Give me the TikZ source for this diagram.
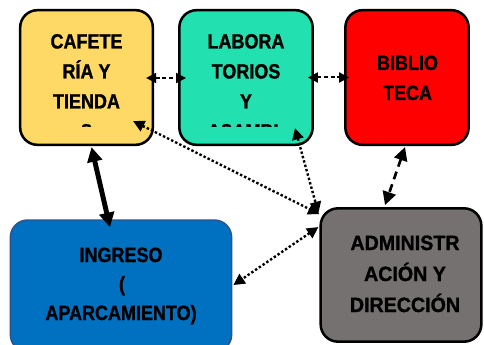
\documentclass[tikz,border=0pt]{standalone}
\usepackage{fontspec}
\setmainfont{Liberation Sans}
\newfontfamily\boxfont[FakeStretch=0.87,BoldFeatures={FakeBold=1.2}]{Liberation Sans}
\newfontfamily\admfont[FakeStretch=0.95,BoldFeatures={FakeBold=1.2}]{Liberation Sans}
\usetikzlibrary{arrows.meta}
\definecolor{cafeyellow}{RGB}{255,217,102}
\definecolor{labgreen}{RGB}{35,224,176}
\definecolor{ingblue}{RGB}{0,112,192}
\definecolor{ingedge}{RGB}{47,82,143}
\definecolor{admgray}{RGB}{118,113,113}

\begin{document}
\begin{tikzpicture}[x=0.75pt,y=-0.75pt,
    area/.style={draw=black,line width=1.9pt,rounded corners=13pt,inner sep=0},
    lbl/.style={font=\boxfont\bfseries\fontsize{15.5}{18}\selectfont,anchor=base,inner sep=0},
    admlbl/.style={lbl,font=\admfont\bfseries\fontsize{15.5}{18}\selectfont},
    link/.style={black,line width=1.5pt,arrows={Triangle[length=#1,width=#1]-Triangle[length=#1,width=#1]}},
    dots/.style={link=8.5pt,line width=1.8pt,dash pattern=on 1.8pt off 1.6pt}]
  \useasboundingbox (0,0) rectangle (484,345);
  \clip (0,0) rectangle (484,345);
  \node[area,fill=cafeyellow,minimum width=99.5pt,minimum height=101pt] (cafe) at (86.5,77.5) {};
  \node[area,fill=labgreen,minimum width=100pt,minimum height=101pt] (lab) at (246,77.5) {};
  \node[area,fill=red,minimum width=92.5pt,minimum height=101pt] (bib) at (407,77.5) {};
  \node[area,draw=ingedge,line width=1.1pt,fill=ingblue,minimum width=166pt,minimum height=99pt] (ing) at (121,286) {};
  \node[area,fill=admgray,minimum width=120.5pt,minimum height=100pt] (adm) at (401,275) {};
  \begin{scope}
    \clip (0,0) rectangle (330,127);
    \foreach \t [count=\i] in {CAFETE,RÍA Y,TIENDA,S}
      \node[lbl] (cafe-\i) at (86.5,18.5+30*\i) {\t};
    \foreach \t [count=\i] in {LABORA,TORIOS,Y,ASAMBL}
      \node[lbl] (lab-\i) at (246,18.5+30*\i) {\t};
  \end{scope}
  \node[lbl] (bib-1) at (407.5,70) {BIBLIO};
  \node[lbl] (bib-2) at (407.5,100) {TECA};
  \node[lbl] (ing-1) at (121,262) {INGRESO};
  \node[lbl] (ing-2) at (122,291) {(};
  \node[lbl] (ing-3) at (121,320) {APARCAMIENTO)};
  \node[admlbl] (adm-1) at (405,250) {ADMINISTR};
  \node[admlbl] (adm-2) at (405,281) {ACIÓN Y};
  \node[admlbl] (adm-3) at (405,312) {DIRECCIÓN};
  \draw[link=7.5pt,dash pattern=on 3pt off 2pt] ([shift={(-8,0.5)}]cafe.east) -- ([shift={(8,0.5)}]lab.west);
  \draw[link=7.5pt,dash pattern=on 3pt off 2pt] ([shift={(-6,0)}]lab.east) -- ([shift={(5,0)}]bib.west);
  \draw[link=11pt,line width=3.7pt] ([shift={(5,1)}]cafe.south) -- ([shift={(-11,8)}]ing.north);
  \draw[link=10pt,line width=2pt,dash pattern=on 6pt off 4pt] ([shift={(-2,1)}]bib.south) -- ([shift={(-16,-2)}]adm.north);
  \draw[dots] ([shift={(-21,-25)}]cafe.south east) -- ([shift={(0,7)}]adm.north west);
  \draw[dots] ([shift={(-19,-18)}]lab.south east) -- ([shift={(-1,6)}]adm.north west);
  \draw[dots] ([shift={(-1,20)}]adm.north west) -- ([shift={(1,-1)}]ing.east);
\end{tikzpicture}
\end{document}
